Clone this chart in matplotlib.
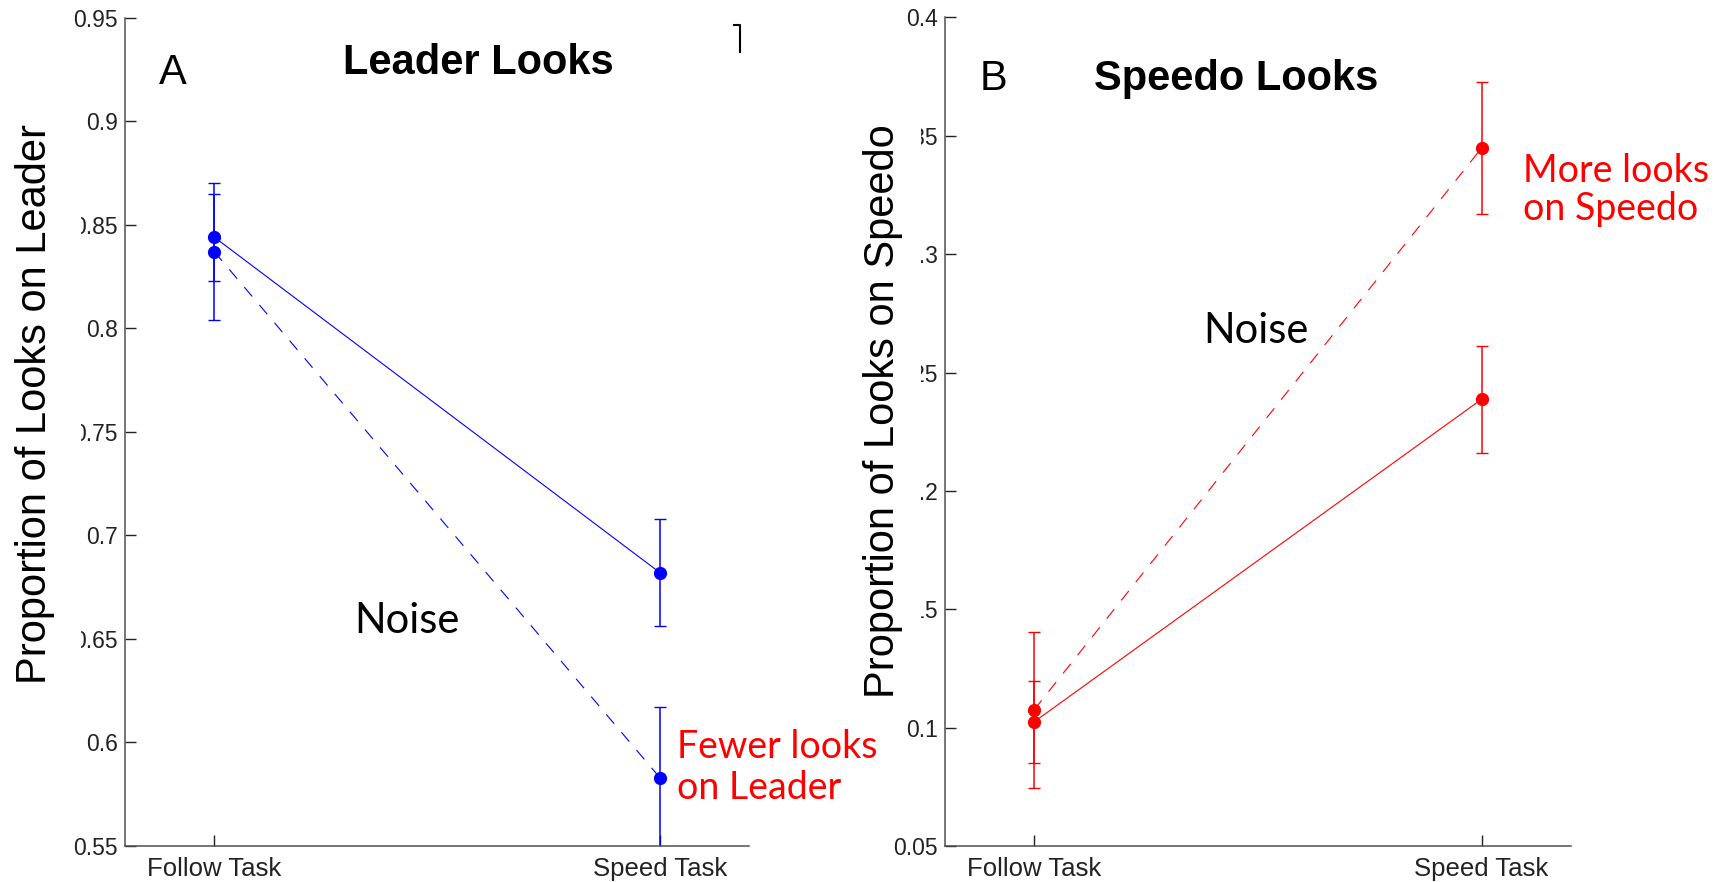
import matplotlib
matplotlib.use('Agg')
import matplotlib.pyplot as plt
from matplotlib.ticker import FormatStrFormatter
from matplotlib.lines import Line2D

plt.rcParams['font.family'] = ['Liberation Sans', 'DejaVu Sans']

# group means and standard errors, x = task condition
tasks = ['Follow Task', 'Speed Task']
task_x = [1, 2]

leader_quiet = [0.844, 0.682]
leader_quiet_err = [0.021, 0.026]
leader_noise = [0.837, 0.583]
leader_noise_err = [0.033, 0.034]

speedo_quiet = [0.1024, 0.2387]
speedo_quiet_err = [0.0174, 0.0227]
speedo_noise = [0.1075, 0.3448]
speedo_noise_err = [0.033, 0.028]

leader_ticks = [0.55, 0.6, 0.65, 0.7, 0.75, 0.8, 0.85, 0.9, 0.95]
speedo_ticks = [0.05, 0.1, 0.15, 0.2, 0.25, 0.3, 0.35, 0.4]

W, H = 1720, 882
fig = plt.figure(figsize=(W / 100, H / 100), dpi=100)

def px(x, y):
    return x / W, 1 - y / H

ax1 = fig.add_axes([125 / W, 1 - 846 / H, 624 / W, 828.5 / H])
ax2 = fig.add_axes([944.5 / W, 1 - 846 / H, 626.5 / W, 828.5 / H])


def draw_panel(ax, quiet, quiet_err, noise, noise_err, color, ticks, ylabel,
               lab_x, lab_y, lab_pad):
    ax.plot(task_x, quiet, '-', color=color, lw=0.8)
    ax.plot(task_x, noise, '--', color=color, lw=0.8, dashes=(11, 10))
    for y, e in ((quiet, quiet_err), (noise, noise_err)):
        ax.errorbar(task_x, y, yerr=e, fmt='o', color=color, ms=8.5,
                    elinewidth=1.1, capsize=4.5, capthick=1.0)
    ax.set_xlim(0.8, 2.2)
    ax.set_ylim(ticks[0], ticks[-1])
    ax.set_yticks(ticks)
    ax.yaxis.set_major_formatter(FormatStrFormatter('%g'))
    ax.set_xticks(task_x)
    ax.set_xticklabels(tasks)
    ax.tick_params(direction='in', length=8, width=1.0, labelsize=16.5,
                   colors='#222222', pad=5)
    ax.tick_params(axis='x', pad=8, labelsize=18.5)
    for s in ('top', 'right'):
        ax.spines[s].set_visible(False)
    for s in ('left', 'bottom'):
        ax.spines[s].set_color('#505050')
        ax.spines[s].set_linewidth(1.1)
    # white box behind the label hides the left part of nearby tick labels
    ax.set_ylabel(ylabel, fontsize=30,
                  bbox=dict(facecolor='white', edgecolor='none',
                            boxstyle='square,pad=%g' % lab_pad))
    ax.yaxis.set_label_coords(lab_x, lab_y)


draw_panel(ax1, leader_quiet, leader_quiet_err, leader_noise, leader_noise_err,
           '#0000ff', leader_ticks, 'Proportion of Looks on Leader', -0.112, 0.533, 0.62)
draw_panel(ax2, speedo_quiet, speedo_quiet_err, speedo_noise, speedo_noise_err,
           '#ff0000', speedo_ticks, 'Proportion of Looks on Speedo', -0.066, 0.525, 0.42)

# panel letters and titles
fig.text(*px(159, 84.5), 'A', fontsize=30, va='baseline')
fig.text(*px(478, 73.5), 'Leader Looks', fontsize=30, fontweight='bold',
         ha='center', va='baseline')
fig.text(*px(980, 90), 'B', fontsize=30, va='baseline')
fig.text(*px(1236, 90), 'Speedo Looks', fontsize=30, fontweight='bold',
         ha='center', va='baseline')

# small bracket mark near the top of panel A
fig.add_artist(Line2D([734 / W, 740 / W, 740 / W], [1 - 25 / H, 1 - 25 / H, 1 - 52 / H],
                      color='black', lw=1.5))

# annotations
note = dict(family=['Lato', 'DejaVu Sans'], va='baseline')
fig.text(*px(407, 633), 'Noise', fontsize=30, ha='center', color='black', **note)
fig.text(*px(1256, 343), 'Noise', fontsize=30, ha='center', color='black', **note)
fig.text(*px(677, 758), 'Fewer looks', fontsize=27, color='#ff0000', **note)
fig.text(*px(677, 799), 'on Leader', fontsize=27, color='#ff0000', **note)
fig.text(*px(1523, 182), 'More looks', fontsize=27, color='#ff0000', **note)
fig.text(*px(1523, 220), 'on Speedo', fontsize=27, color='#ff0000', **note)

fig.savefig('out.png', dpi=100)
